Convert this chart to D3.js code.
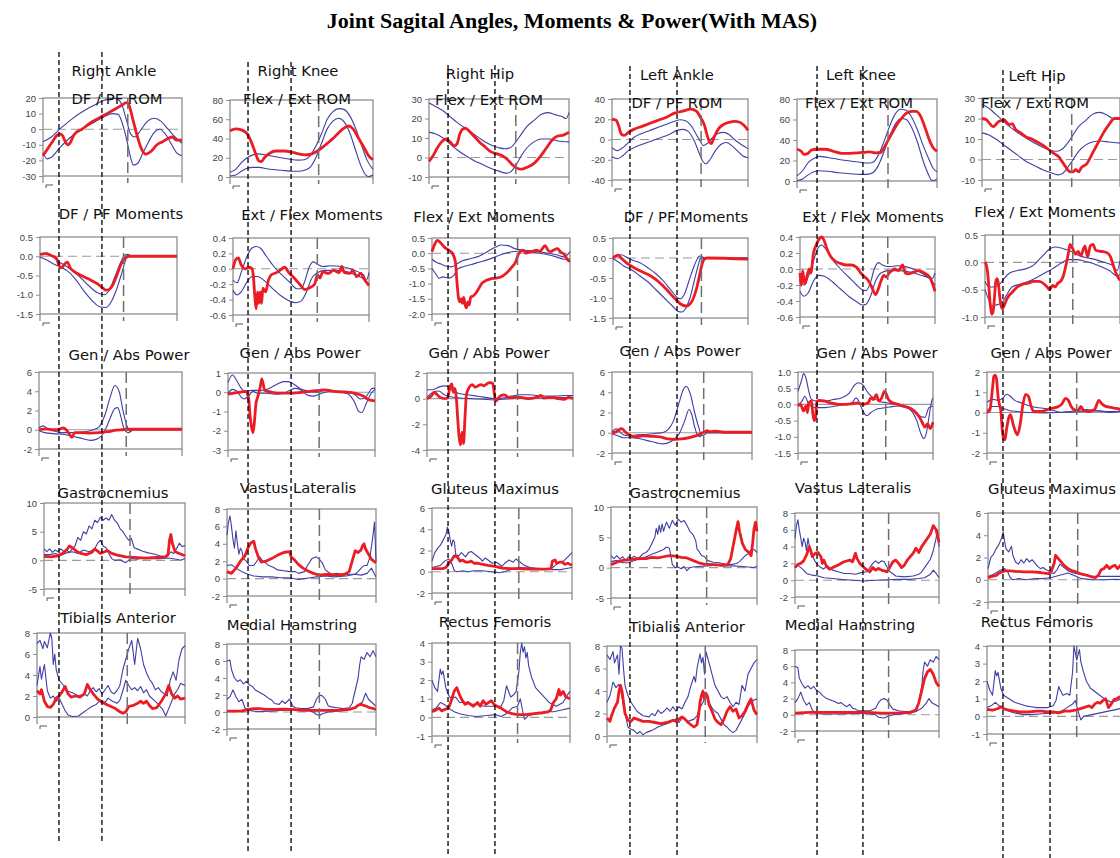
<!DOCTYPE html>
<html>
<head>
<meta charset="utf-8">
<script src="https://cdn.jsdelivr.net/npm/d3@7"></script>
<style>
  body { margin: 0; background: #fff; }
  svg { display: block; }
</style>
</head>
<body>
<svg id="chart" width="1120" height="858"></svg>
<script>
// ---- Gait data: x = % of gait cycle, y = joint value ----
// hi / lo = normal reference band, pt = patient (with MAS)

// Right ankle
const rAnkleAng_hi = [[0,-8],[6,-5],[12,0],[20,6],[28,11],[36,15],[44,18.5],[50,19.8],[54,19],[57,15],[60,6],[63,-3],[66,-5],[70,-1],[75,5],[80,7],[85,5],[90,0],[95,-5],[100,-9]];
const rAnkleAng_lo = [[0,-15],[3,-19],[6,-18],[12,-12],[20,-5],[28,0],[36,4],[44,8],[50,10],[54,9.5],[57,4],[60,-6],[63,-18],[65,-23],[68,-22],[72,-15],[76,-8],[80,-2],[84,0],[88,-3],[92,-9],[96,-15],[100,-17]];
const rAnkleAng_pt = [[0,-17],[3,-13],[6,-9],[10,-4],[12,-3],[14,-4],[16,-8],[18,-10],[20,-8],[22,-4],[24,-2],[28,0],[34,4],[40,7],[46,10],[52,13],[56,15],[60,17],[62,15],[65,5],[68,-5],[71,-13],[74,-16],[78,-14],[82,-10],[86,-8],[90,-6],[93,-5],[96,-7],[100,-7]];

const rAnkleMom_hi = [[0,0.05],[5,0.08],[9,0.0],[14,-0.15],[20,-0.28],[28,-0.5],[36,-0.78],[42,-0.95],[47,-1.0],[51,-0.85],[55,-0.5],[59,-0.15],[62,0.03],[64,0.05],[67,0],[100,0]];
const rAnkleMom_lo = [[0,-0.02],[5,-0.1],[10,-0.2],[15,-0.28],[20,-0.38],[26,-0.6],[32,-0.9],[38,-1.15],[44,-1.32],[48,-1.33],[52,-1.18],[56,-0.85],[60,-0.4],[63,-0.05],[65,0.02],[68,0],[100,0]];
const rAnkleMom_pt = [[0,0.05],[4,0.07],[8,0.02],[12,-0.05],[14,-0.25],[16,-0.3],[18,-0.2],[20,-0.15],[22,-0.3],[25,-0.4],[30,-0.5],[36,-0.6],[42,-0.72],[46,-0.83],[48,-0.88],[50,-0.87],[53,-0.75],[56,-0.5],[59,-0.22],[62,-0.05],[65,0],[100,0]];

const rAnklePow_hi = [[0,0.2],[3,0.4],[6,0.1],[10,-0.1],[16,-0.3],[24,-0.3],[32,-0.2],[38,0],[42,0.3],[46,1.5],[50,3.5],[53,4.6],[56,4],[59,1.8],[62,0.2],[64,-0.2],[66,0],[100,0]];
const rAnklePow_lo = [[0,-0.1],[4,-0.3],[10,-0.4],[18,-0.5],[24,-0.7],[30,-0.9],[36,-1.1],[40,-1.0],[44,-0.6],[47,0.2],[50,1.3],[53,2.2],[55,2.3],[57,1.5],[59,0.3],[61,-0.2],[63,-0.3],[65,0],[100,0]];
const rAnklePow_pt = [[0,0],[5,0.1],[10,0],[14,0.05],[17,0.2],[19,0],[21,-0.4],[23,-0.8],[25,-0.3],[30,-0.3],[36,-0.35],[42,-0.3],[48,-0.2],[54,-0.05],[58,0],[62,0.05],[100,0.05]];

const rGastroc_hi = [[0,2],[2,1.5],[4,2],[6,1.4],[8,1.8],[10,1.5],[12,2],[14,1.6],[16,1.8],[18,1.4],[20,2],[22,2.5],[24,4],[26,3.5],[28,5],[30,4.6],[32,6],[34,5.5],[36,7],[38,6.6],[40,7.5],[42,7],[44,7.4],[46,7],[48,8],[50,7],[52,6.5],[54,5.5],[56,5],[58,4.2],[60,3.5],[62,3.8],[64,2.2],[66,2],[70,1.6],[74,1.3],[78,1.1],[82,0.8],[86,0.6],[88,0.8],[90,1.5],[92,1.2],[94,2],[96,3],[98,2.4],[100,2.6]];
const rGastroc_lo = [[0,1],[4,1],[8,1.2],[12,0.9],[16,1.3],[20,1.5],[24,1.2],[28,1.8],[32,1.5],[36,2],[38,3],[40,3.5],[42,2.5],[44,2.2],[46,1.2],[48,0.3],[50,0],[54,0.1],[56,-0.2],[58,-0.4],[60,0],[62,0.3],[66,0.2],[70,0.4],[76,0.3],[82,0.3],[88,0.4],[94,0.2],[97,0],[100,0.3]];
const rGastroc_pt = [[0,0.7],[5,0.6],[10,0.8],[13,1.2],[16,1.8],[18,2.5],[20,2.2],[23,1.6],[26,1.2],[30,1],[34,1.4],[36,2],[38,1.6],[40,1.2],[43,1.5],[45,1.7],[48,1.2],[52,0.9],[58,0.6],[64,0.5],[72,0.4],[80,0.5],[86,0.6],[88,1],[89,3.5],[90,4.5],[91,3],[93,1.5],[96,1.2],[100,0.8]];

const rTibAnt_hi = [[0,7],[2,7.3],[4,6.5],[5,7.2],[7,6.6],[9,8],[10,7.5],[11,5],[12,6],[13,4.5],[15,3.5],[18,3],[20,2.5],[24,2.3],[28,2],[32,2.2],[34,2],[36,2.5],[38,2.8],[40,2.4],[42,2.7],[44,2.2],[46,2.6],[48,3],[50,2.4],[52,2.2],[54,2.5],[56,3],[58,4.5],[60,5.5],[62,6.5],[64,7.3],[66,5],[68,7.5],[70,6.5],[72,5],[74,4.2],[76,3.6],[78,3.2],[80,2.6],[82,2.8],[84,2.4],[86,2.2],[88,2],[90,3.5],[92,4.3],[94,3.5],[96,5.5],[98,6.5],[100,6.8]];
const rTibAnt_lo = [[0,3],[2,4.8],[3,3.6],[5,5],[7,2.5],[9,1.8],[11,2],[13,1.5],[15,1.8],[17,1.2],[19,0.6],[21,0.2],[24,0.05],[28,0.1],[31,0.4],[34,0.7],[37,1],[40,1.2],[43,1.6],[46,1.4],[48,1.8],[51,1.5],[54,1.3],[56,1.6],[58,2.5],[60,3.5],[62,3],[64,2.6],[66,2.8],[68,2.5],[70,2.9],[72,2.3],[74,2.6],[76,2],[79,1.6],[82,1.2],[85,0.7],[87,0.1],[89,0.8],[91,1.5],[93,2.2],[95,2.6],[97,3.2],[100,3]];
const rTibAnt_pt = [[0,2.5],[2,2.2],[3,2.6],[5,1.5],[7,1],[9,0.9],[11,1.2],[13,1.8],[15,2],[17,2.4],[19,2.9],[21,2.2],[23,1.9],[26,2],[29,1.9],[32,2.2],[34,3.1],[36,2.6],[38,2.2],[41,1.7],[44,1.4],[47,1.2],[50,1],[53,0.8],[56,0.5],[58,0.35],[60,0.5],[62,1],[65,1.1],[68,1.3],[70,1.5],[72,1.3],[74,1.5],[76,1.1],[78,0.8],[81,0.9],[84,1.5],[87,2.2],[89,3],[91,2.2],[93,1.8],[95,2],[97,1.7],[100,1.8]];

// Right knee
const rKneeAng_hi = [[0,5],[4,8],[8,15],[12,20],[16,23],[20,24],[26,22.5],[32,21],[40,19],[48,17.5],[52,18],[56,22],[60,32],[64,45],[68,60],[72,68],[76,71],[80,70],[84,63],[88,50],[92,33],[96,17],[100,8]];
const rKneeAng_lo = [[0,1],[4,2],[8,6],[12,9],[16,10],[20,10],[28,8],[36,7],[44,6],[48,6],[52,7],[56,10],[60,20],[64,35],[68,50],[72,58],[76,61],[80,57],[84,45],[88,27],[92,10],[95,2],[97,0.5],[100,2]];
const rKneeAng_pt = [[0,48],[4,50],[8,49],[12,45],[15,36],[18,24],[20,17],[22,16],[24,20],[28,25],[32,27],[38,27],[44,25.5],[48,24],[52,23],[56,23.5],[60,26],[64,30],[68,35],[72,40],[76,46],[80,51],[83,53],[86,50],[90,40],[94,30],[97,22],[100,18]];

const rKneeMom_hi = [[0,-0.15],[3,-0.18],[6,-0.05],[10,0.15],[14,0.27],[17,0.29],[20,0.27],[25,0.15],[30,0.03],[36,-0.08],[42,-0.18],[47,-0.26],[50,-0.26],[53,-0.15],[56,0.02],[59,0.09],[62,0.06],[66,0.03],[72,0.04],[80,0.03],[86,0],[92,-0.04],[96,-0.08],[98,-0.15],[100,-0.05]];
const rKneeMom_lo = [[0,-0.28],[3,-0.34],[6,-0.3],[10,-0.18],[14,-0.1],[18,-0.1],[24,-0.17],[30,-0.27],[36,-0.36],[42,-0.42],[46,-0.44],[50,-0.42],[54,-0.3],[58,-0.12],[62,-0.05],[68,-0.02],[76,-0.02],[84,-0.04],[90,-0.08],[96,-0.13],[100,-0.2]];
const rKneeMom_pt = [[0,0.0],[2,0.12],[4,0.14],[6,0.05],[9,0.0],[12,0.02],[14,0.0],[15,-0.1],[16,-0.35],[17,-0.52],[18,-0.3],[19,-0.45],[20,-0.3],[21,-0.45],[22,-0.25],[24,-0.3],[26,-0.15],[28,-0.08],[32,-0.05],[36,0.0],[38,0.02],[41,-0.05],[45,-0.12],[49,-0.2],[53,-0.27],[56,-0.25],[60,-0.2],[62,-0.08],[64,-0.12],[66,-0.04],[70,-0.06],[74,-0.02],[78,-0.05],[80,0.03],[82,-0.05],[86,-0.06],[88,-0.02],[91,-0.1],[94,-0.06],[97,-0.15],[100,-0.22]];

const rKneePow_hi = [[0,0.5],[3,0.9],[6,0.6],[9,0.2],[12,0.05],[16,0.1],[22,0.1],[28,0.2],[33,0.4],[38,0.55],[41,0.55],[45,0.4],[50,0.15],[55,0.05],[60,0],[66,0.1],[72,0.05],[80,0.05],[86,-0.1],[90,-0.35],[93,-0.3],[96,0],[98,0.2],[100,0.2]];
const rKneePow_lo = [[0,-0.05],[3,0.15],[6,0.05],[9,-0.25],[11,-0.35],[14,-0.2],[17,0.05],[20,-0.05],[26,-0.05],[32,-0.1],[38,-0.05],[42,0.1],[46,0.2],[50,0.1],[54,-0.15],[58,-0.2],[62,-0.1],[66,0],[72,0.05],[78,0],[82,-0.1],[86,-0.5],[89,-1.0],[91,-1.05],[94,-0.6],[97,-0.1],[100,0.15]];
const rKneePow_pt = [[0,-0.1],[4,-0.05],[8,0],[12,0.05],[14,-0.3],[15,-1.2],[16,-1.8],[17,-2.1],[18,-1.5],[19,-0.6],[20,-0.3],[22,0.3],[23,0.7],[25,0.1],[30,0],[36,-0.05],[42,-0.05],[50,0],[56,0.05],[62,0.1],[66,0.12],[72,0.05],[80,0],[86,-0.05],[92,-0.2],[96,-0.4],[100,-0.45]];

const rVastLat_hi = [[0,5],[1,6.5],[2,7.2],[3,6],[4,4.5],[5,3.5],[6,5.5],[7,4],[8,2.8],[9,3.5],[10,3.2],[11,2.3],[13,2],[15,1.5],[18,1.5],[20,2],[22,2.5],[24,2],[26,1.8],[28,1.5],[31,1.3],[34,1],[38,0.9],[42,0.8],[46,0.8],[48,0.6],[52,0.8],[54,1.5],[57,2.3],[60,2.5],[62,2.2],[64,1.8],[66,1],[70,0.5],[74,0.6],[78,0.4],[82,0.5],[86,0.5],[88,0.8],[90,1.2],[92,1.5],[94,1.5],[96,2.5],[98,5],[99,6.5],[100,2]];
const rVastLat_lo = [[0,1.5],[3,1.6],[6,1.2],[10,0.8],[14,0.5],[18,0.3],[24,0.2],[30,0.2],[36,0.1],[42,0.1],[48,-0.1],[52,0],[56,0.1],[60,0.2],[66,0.3],[72,0.2],[80,0.3],[86,0.5],[90,0.4],[94,0.6],[97,1.2],[99,0.5],[100,0.2]];
const rVastLat_pt = [[0,0.8],[3,0.6],[6,1.2],[9,2],[12,2.6],[14,3.5],[16,4.1],[18,4.3],[19,3.5],[21,2.5],[23,1.9],[26,2],[30,2.3],[34,2.7],[38,3.0],[42,3.1],[43,2.5],[45,2.2],[48,1.6],[51,1.2],[54,0.9],[58,0.6],[62,0.4],[68,0.5],[74,0.4],[79,0.5],[82,0.8],[84,2],[86,3.2],[88,3],[90,3.3],[91,3.8],[92,4],[93,3.4],[95,2.8],[97,2.2],[100,1.8]];

const rMedHam_hi = [[0,6],[2,6.1],[3,5],[5,4],[7,3.6],[9,3.8],[11,3.3],[13,3.6],[15,3.2],[17,3],[19,2.6],[22,2.3],[25,2],[28,1.6],[30,1.4],[32,1],[35,0.9],[37,1.3],[39,1],[42,1.5],[44,0.7],[46,0.5],[50,0.4],[54,0.4],[58,0.6],[60,1.5],[62,2],[64,1.9],[66,1.5],[68,0.7],[70,0.6],[74,0.5],[78,0.4],[82,0.5],[84,1],[86,2.5],[88,4],[89,5.5],[90,6.5],[92,6.2],[94,7],[96,6.5],[98,7.2],[100,6.5]];
const rMedHam_lo = [[0,1.5],[2,1.8],[4,2.6],[6,1.8],[8,1.2],[10,1.5],[12,0.5],[14,0.2],[18,0.1],[22,0.05],[30,0.1],[38,0.2],[46,0.3],[54,0.2],[58,0],[60,-0.3],[62,-0.4],[64,-0.2],[68,0],[74,0.1],[80,0.2],[84,0.4],[88,0.8],[91,1.2],[93,2.2],[95,1.5],[98,1],[100,0.7]];
const rMedHam_pt = [[0,0.1],[10,0.1],[14,0.3],[18,0.4],[22,0.4],[26,0.3],[32,0.3],[38,0.35],[44,0.3],[50,0.2],[58,0.2],[66,0.2],[74,0.2],[82,0.3],[86,0.5],[88,0.8],[90,0.9],[93,0.7],[96,0.5],[100,0.3]];

// Right hip
const rHipAng_hi = [[0,28],[5,26],[10,24],[15,21],[20,18],[26,15],[32,12],[38,9],[44,6.5],[50,5],[54,4.5],[58,5],[62,8],[66,12],[70,16],[75,19],[80,22],[85,23],[90,22],[95,21],[98,20],[100,23]];
const rHipAng_lo = [[0,13],[5,12],[10,10],[15,7],[20,4],[26,1],[32,-1.5],[38,-3.5],[44,-5.5],[50,-7],[55,-8],[58,-7.5],[62,-4],[66,1],[70,5],[75,8],[80,9.5],[86,9.5],[92,8.5],[100,8]];
const rHipAng_pt = [[0,-2],[3,1],[6,5],[9,8],[12,9.5],[15,8],[18,6],[20,7],[22,12],[24,14.5],[26,15],[28,14],[32,11],[36,8],[40,5.5],[44,3],[48,2],[52,1],[56,-1],[60,-4],[63,-5.5],[66,-6],[70,-5],[75,-3],[80,1],[84,5],[88,9],[92,11],[96,11.5],[100,13]];

const rHipMom_hi = [[0,-0.2],[3,-0.3],[6,-0.35],[10,-0.42],[14,-0.45],[18,-0.35],[22,-0.25],[28,-0.18],[34,-0.1],[40,0.05],[46,0.2],[50,0.27],[55,0.25],[60,0.15],[66,0.1],[72,0.08],[78,0.05],[84,0.0],[90,-0.05],[96,-0.12],[100,0.05]];
const rHipMom_lo = [[0,-0.5],[3,-0.7],[5,-0.82],[8,-0.78],[12,-0.82],[16,-0.72],[18,-0.55],[22,-0.45],[28,-0.38],[34,-0.3],[40,-0.22],[46,-0.12],[52,-0.02],[58,0.05],[64,0.07],[70,0.05],[78,0.0],[84,-0.05],[90,-0.12],[96,-0.2],[100,-0.18]];
const rHipMom_pt = [[0,0.05],[2,0.3],[4,0.42],[6,0.35],[9,0.2],[12,0.1],[15,-0.02],[17,-0.3],[18,-0.9],[19,-1.4],[20,-1.6],[21,-1.5],[22,-1.65],[23,-1.45],[24,-1.7],[25,-1.8],[26,-1.6],[27,-1.7],[28,-1.45],[30,-1.4],[32,-1.3],[34,-1.15],[36,-1.0],[39,-0.9],[42,-0.85],[46,-0.82],[50,-0.78],[54,-0.65],[58,-0.45],[61,-0.25],[62,-0.1],[64,0.05],[66,0.1],[68,0.0],[72,0.05],[76,0.1],[78,0.05],[80,0.15],[82,0.25],[84,0.1],[86,0.05],[88,0.1],[91,0.15],[93,0.05],[96,-0.05],[98,-0.2],[100,-0.28]];

const rHipPow_hi = [[0,0.7],[4,0.7],[8,0.9],[12,1.0],[15,0.9],[18,0.6],[22,0.4],[28,0.3],[34,0.2],[40,0.1],[46,0],[52,0.05],[58,0.2],[64,0.3],[70,0.3],[76,0.25],[82,0.2],[88,0.2],[94,0.25],[100,0.25]];
const rHipPow_lo = [[0,0.1],[4,0.5],[8,0.6],[12,0.3],[16,0.15],[22,0.05],[30,0],[38,-0.05],[46,-0.1],[52,-0.05],[58,0],[64,0.05],[70,0.05],[80,0.05],[90,0.1],[100,0.05]];
const rHipPow_pt = [[0,0],[3,0.2],[5,0.5],[7,0.3],[9,0.1],[12,0],[14,0.05],[16,1.0],[17,1.15],[18,0.5],[19,0.8],[20,0.2],[21,-1.5],[22,-3.0],[23,-3.6],[24,-2.6],[25,-3.5],[26,-1.5],[27,0.3],[29,0.9],[31,1.1],[33,0.9],[35,1.0],[37,1.1],[39,1.0],[41,1.15],[43,1.25],[45,1.2],[46,0.5],[47,-0.2],[48,-0.1],[50,0.2],[53,0.3],[56,0.1],[60,0.1],[64,0.1],[70,0],[76,0.15],[78,0.25],[80,0.05],[86,0.1],[90,0.0],[94,-0.05],[97,0.1],[100,0]];

const rGlutMax_hi = [[0,1],[2,1.8],[4,2.2],[6,2.5],[8,3],[10,3.5],[11,4.2],[12,3.8],[13,3],[14,2.4],[15,3],[16,2.8],[17,1.6],[19,1.5],[21,1.8],[24,1.4],[26,1.8],[28,1.9],[31,1.6],[34,1.3],[36,1.0],[38,1.3],[40,1.1],[43,0.8],[46,0.9],[48,0.7],[50,0.5],[52,0.8],[55,1.1],[58,0.9],[60,1.2],[63,0.9],[66,0.6],[70,0.4],[75,0.3],[80,0.3],[85,0.25],[88,0.6],[91,0.9],[94,1.0],[97,1.4],[100,1.8]];
const rGlutMax_lo = [[0,0.4],[3,0.5],[6,0.6],[9,1.0],[12,1.2],[14,0.8],[16,0.1],[18,0.0],[22,0.1],[26,0.0],[30,0.1],[36,0.1],[42,0.0],[48,-0.1],[52,0],[56,0.2],[62,0.4],[70,0.35],[78,0.3],[86,0.2],[92,0.2],[96,0.3],[100,0.4]];
const rGlutMax_pt = [[0,0.3],[4,0.3],[8,0.3],[10,0.4],[12,0.8],[14,1.1],[16,1.5],[18,1.4],[20,1.0],[22,1.1],[24,0.9],[26,0.9],[28,1.0],[30,0.8],[33,0.8],[36,0.7],[40,0.6],[45,0.5],[50,0.35],[56,0.3],[62,0.3],[70,0.25],[76,0.25],[82,0.25],[85,0.3],[86,1.0],[88,1.1],[89,0.8],[91,0.9],[93,0.9],[95,0.7],[97,0.8],[100,0.6]];

const rRectFem_hi = [[0,2],[2,1.6],[4,1.4],[6,2.6],[7,2.3],[8,2.5],[10,1.6],[12,1.2],[14,1],[17,1.1],[20,0.8],[24,0.8],[28,0.7],[32,0.7],[38,0.6],[44,0.6],[50,0.6],[52,0.9],[54,1.7],[55,1.5],[57,1.1],[59,1.2],[61,1.4],[63,2.5],[64,3.5],[65,4],[66,3.5],[67,3.8],[68,3.2],[69,3.5],[70,2.8],[72,2.2],[75,1.6],[80,1.2],[85,0.8],[90,0.6],[95,0.8],[98,1.2],[100,1.4]];
const rRectFem_lo = [[0,0.4],[3,0.5],[6,0.8],[9,0.7],[12,0.5],[16,0.3],[20,0.2],[26,0.1],[32,0.05],[40,0.1],[46,0.15],[50,0.05],[54,0.2],[58,0.5],[62,0.6],[64,1.0],[65,0.6],[67,-0.1],[70,0.1],[76,0.2],[82,0.3],[88,0.3],[94,0.4],[100,0.5]];
const rRectFem_pt = [[0,0.3],[3,0.4],[5,0.5],[7,0.35],[10,0.45],[12,0.5],[14,0.9],[16,1.4],[18,1.6],[20,1.2],[22,0.9],[24,0.7],[26,0.8],[28,0.7],[30,0.6],[33,0.8],[35,0.6],[37,0.9],[39,0.7],[41,0.8],[43,0.9],[45,0.7],[47,0.6],[50,0.5],[54,0.3],[58,0.2],[62,0.15],[68,0.15],[74,0.2],[80,0.25],[84,0.3],[86,0.4],[88,0.8],[90,1.0],[92,1.5],[93,1.2],[95,1.4],[97,1.1],[100,1.0]];

// Left ankle
const lAnkleAng_hi = [[0,-8],[4,-11],[8,-8],[12,-3],[16,2],[22,6],[30,10],[38,14],[46,18],[50,19.5],[54,18.5],[58,14],[62,5],[65,-2],[67,-6],[70,-4],[74,2],[78,6],[82,7],[86,5],[90,0],[95,-5],[100,-9]];
const lAnkleAng_lo = [[0,-17],[4,-19],[8,-16],[12,-11],[18,-7],[26,-3],[34,1],[42,5],[48,9],[52,10],[56,8],[60,0],[64,-13],[67,-22],[69,-24],[72,-20],[76,-11],[80,-5],[84,-3],[88,-6],[92,-11],[96,-16],[100,-18]];
const lAnkleAng_pt = [[0,20],[3,19],[5,13],[7,5],[9,4],[12,7],[16,10],[22,13],[28,16],[34,19],[40,22],[46,26],[52,28],[58,30],[62,28],[65,22],[68,14],[70,4],[72,-3],[73,-4],[75,2],[78,10],[82,15],[86,17],[90,18],[94,17],[97,14],[100,9]];

const lAnkleMom_hi = [[0,0],[3,0.05],[6,0.08],[10,0.02],[14,-0.05],[20,-0.12],[26,-0.25],[32,-0.4],[38,-0.6],[44,-0.85],[48,-1.0],[50,-1.02],[53,-0.9],[56,-0.6],[59,-0.3],[62,-0.05],[64,0.05],[66,0.03],[68,0],[100,0]];
const lAnkleMom_lo = [[0,-0.02],[4,-0.1],[8,-0.2],[14,-0.3],[20,-0.45],[26,-0.6],[32,-0.8],[38,-1.0],[44,-1.2],[48,-1.33],[51,-1.35],[54,-1.25],[57,-1.0],[60,-0.6],[63,-0.2],[65,0],[100,0]];
const lAnkleMom_pt = [[0,0],[2,0.05],[4,0.07],[6,0.0],[10,-0.12],[16,-0.25],[22,-0.35],[28,-0.45],[34,-0.6],[40,-0.8],[46,-1.02],[50,-1.15],[54,-1.2],[56,-1.18],[59,-1.05],[62,-0.75],[64,-0.45],[66,-0.15],[68,-0.02],[70,0],[100,-0.03]];

const lAnklePow_hi = [[0,0.1],[3,0.4],[5,0.2],[8,-0.2],[12,-0.3],[18,-0.2],[26,-0.15],[32,-0.05],[36,0],[40,0.3],[44,1.2],[48,3],[51,4.3],[53,4.6],[56,3.8],[59,2],[62,0.5],[64,-0.3],[66,-0.2],[68,0],[100,0]];
const lAnklePow_lo = [[0,-0.1],[4,-0.3],[8,-0.5],[14,-0.5],[20,-0.6],[26,-0.8],[32,-1.0],[36,-1.1],[40,-1.0],[44,-0.7],[48,-0.1],[52,1.2],[55,2.3],[57,1.8],[59,0.6],[61,-0.2],[63,-0.4],[65,0],[100,0]];
const lAnklePow_pt = [[0,0],[3,0.1],[5,0.3],[7,0.4],[9,0.15],[12,-0.2],[16,-0.4],[22,-0.3],[28,-0.35],[34,-0.4],[40,-0.6],[46,-0.65],[50,-0.6],[56,-0.45],[62,-0.2],[66,0.1],[68,0.2],[70,0.1],[74,0.15],[80,0.05],[88,0.05],[100,0.05]];

const lGastroc_hi = [[0,2],[2,1.5],[4,2],[6,1.4],[8,1.8],[10,1.2],[12,1.8],[14,1.6],[16,1.9],[18,1.5],[20,1.8],[22,2.3],[24,2.5],[26,3],[28,4],[30,5],[31,6.5],[32,5.5],[33,7],[34,5.8],[35,7.2],[36,6],[37,6.8],[38,7.5],[40,6.5],[42,7.8],[44,7],[46,8],[48,7.5],[50,7.8],[52,7],[54,6],[56,5.5],[58,4.5],[59,3],[60,2.8],[62,2],[64,1.8],[66,1.2],[70,0.9],[74,0.8],[78,0.6],[82,0.5],[86,0.7],[88,1],[90,1.5],[92,2],[94,2.3],[96,3],[98,3],[100,2.5]];
const lGastroc_lo = [[0,1],[4,1.2],[8,0.8],[12,0.8],[16,1.2],[20,1.5],[24,1.8],[28,2.2],[32,2.6],[36,3],[38,3.4],[40,3.2],[41,2],[42,0.5],[44,0],[46,0.1],[48,-0.2],[50,0.2],[52,-0.5],[54,0],[56,0.1],[60,0.2],[66,0.3],[72,0.4],[78,0.3],[84,0.3],[90,0.2],[94,0.1],[98,0],[100,0.3]];
const lGastroc_pt = [[0,0.5],[4,0.9],[8,1.2],[12,1.3],[16,1.4],[20,1.5],[24,1.5],[28,1.7],[32,1.6],[36,1.8],[40,2],[44,1.9],[48,1.7],[52,1.6],[56,1.2],[60,0.8],[64,0.6],[70,0.5],[76,0.4],[80,0.5],[82,1.5],[84,4],[86,6.5],[87,7.6],[88,6],[90,4],[92,3],[94,2.6],[96,2],[97,4],[98,6.5],[99,7.5],[100,6]];

const lTibAnt_hi = [[0,7.2],[2,6.8],[4,7.5],[5,6.5],[7,7.2],[8,5.5],[9,8],[10,7.8],[11,6],[12,4.5],[13,4],[14,3.6],[16,3],[18,2.6],[20,2.2],[24,1.8],[28,1.7],[30,2],[32,1.8],[34,2.3],[36,2],[38,2.2],[40,2.5],[42,2.2],[44,2.6],[46,2.2],[48,2.6],[50,2.4],[52,3],[54,3.5],[56,4.5],[58,5.3],[59,4.8],[60,6],[62,7.3],[63,6.5],[64,7],[65,5.5],[66,7.5],[67,7],[68,6.5],[70,5.5],[72,4.5],[74,4],[76,3.5],[78,3.3],[80,3.5],[82,3],[84,2.6],[86,3],[88,2.8],[90,4.5],[92,4],[94,5.5],[96,6],[98,6.5],[100,6.8]];
const lTibAnt_lo = [[0,3],[2,3.6],[4,4.8],[6,4.3],[8,4.6],[10,3.5],[12,2],[14,0.8],[16,0.6],[18,0.5],[20,0.2],[22,0.4],[24,0.1],[26,0.3],[30,0.5],[34,0.8],[38,1.0],[42,1.2],[44,1.4],[46,1.5],[48,1.2],[50,1.6],[54,1.3],[58,1.5],[60,1.8],[62,2.5],[64,3],[66,3.6],[68,3],[70,2.5],[72,2.2],[74,2],[76,1.5],[78,1],[80,0.8],[82,0.5],[84,0.3],[86,0.5],[88,1],[90,1.5],[92,2],[94,2.6],[96,3],[98,3.2],[100,3.3]];
const lTibAnt_pt = [[0,1.6],[2,1.3],[3,1.8],[5,2.5],[7,3],[8,4],[9,4.5],[10,4],[11,3],[12,2],[14,1.4],[16,1.3],[18,1.6],[20,1.5],[24,1.3],[28,1.3],[32,1.2],[36,1.1],[40,1.2],[44,1.4],[46,1.3],[48,1.5],[50,1.7],[52,1.5],[54,1.2],[56,1],[58,0.8],[60,1],[61,1.8],[62,3],[63,3.6],[64,4],[65,3.3],[66,3.8],[67,3.5],[68,2.8],[70,2.2],[72,1.5],[74,1.2],[76,1.0],[78,1.5],[80,2.2],[82,2.6],[84,2.2],[86,2.4],[88,1.6],[90,1.8],[92,2.2],[94,2.8],[96,3.3],[98,2.3],[100,1.9]];

// Left knee
const lKneeAng_hi = [[0,5],[4,10],[8,18],[12,22],[16,24],[22,23],[30,21],[38,19.5],[46,18],[50,17.5],[54,18],[58,25],[62,38],[66,53],[70,65],[74,70],[78,69],[82,62],[86,50],[90,35],[94,22],[97,13],[100,9]];
const lKneeAng_lo = [[0,0.5],[4,2],[8,6],[12,9],[16,10],[22,9.5],[30,8],[38,7],[46,6.5],[50,6.5],[54,8],[58,15],[62,28],[66,43],[70,55],[74,61],[78,60],[82,52],[86,38],[90,20],[94,6],[96,1],[98,0.5],[100,2]];
const lKneeAng_pt = [[0,31],[3,29],[5,26],[8,27],[10,30],[14,31],[20,31],[26,29],[32,27],[38,27],[44,27.5],[48,28],[52,28.5],[56,27.5],[60,28],[62,32],[66,42],[70,52],[74,60],[78,66],[82,68],[85,68],[88,64],[91,54],[94,42],[97,33],[100,29]];

const lKneeMom_hi = [[0,-0.15],[3,-0.2],[6,-0.1],[10,0.1],[13,0.25],[16,0.3],[19,0.25],[24,0.12],[30,0.0],[36,-0.1],[42,-0.2],[46,-0.26],[49,-0.27],[52,-0.18],[55,0.0],[58,0.08],[61,0.05],[66,0.03],[72,0.04],[78,0.03],[84,0.0],[90,-0.05],[95,-0.1],[98,-0.12],[100,-0.05]];
const lKneeMom_lo = [[0,-0.28],[3,-0.34],[6,-0.3],[10,-0.15],[14,-0.08],[18,-0.09],[24,-0.16],[30,-0.25],[36,-0.34],[42,-0.41],[46,-0.45],[49,-0.44],[52,-0.35],[56,-0.15],[60,-0.05],[66,-0.02],[74,-0.02],[82,-0.04],[90,-0.08],[96,-0.12],[100,-0.2]];
const lKneeMom_pt = [[0,-0.05],[1,-0.2],[2,-0.02],[3,-0.15],[4,-0.18],[5,-0.1],[7,0.0],[8,-0.05],[10,0.2],[12,0.3],[14,0.37],[16,0.4],[18,0.35],[20,0.25],[23,0.15],[26,0.1],[30,0.07],[34,0.05],[38,0.05],[42,0.02],[45,-0.05],[48,-0.1],[50,-0.13],[53,-0.22],[55,-0.3],[56,-0.32],[58,-0.25],[60,-0.15],[62,-0.08],[64,-0.1],[66,-0.05],[68,-0.02],[70,0.0],[73,-0.02],[76,0.05],[78,-0.05],[80,-0.06],[84,-0.04],[88,-0.02],[92,-0.05],[96,-0.1],[100,-0.28]];

const lKneePow_hi = [[0,0.4],[3,0.8],[4,0.95],[6,0.8],[8,0.4],[10,0.15],[14,0.1],[20,0.1],[26,0.15],[32,0.2],[38,0.35],[42,0.6],[45,0.67],[48,0.6],[52,0.35],[56,0.2],[60,0.1],[66,0.05],[72,0],[78,-0.05],[84,-0.2],[88,-0.5],[91,-0.9],[93,-1.05],[95,-0.9],[97,-0.4],[99,0.1],[100,0.2]];
const lKneePow_lo = [[0,0.0],[3,0.1],[5,0.25],[8,0.0],[12,-0.1],[20,-0.1],[28,-0.05],[34,0.0],[40,0.05],[43,0.2],[45,0.1],[48,-0.2],[51,-0.35],[54,-0.25],[58,-0.15],[62,-0.12],[68,-0.08],[74,-0.05],[80,-0.1],[86,-0.2],[90,-0.35],[94,-0.4],[97,-0.1],[100,-0.05]];
const lKneePow_pt = [[0,-0.05],[2,0.0],[4,-0.2],[6,-0.05],[7,-0.25],[8,0.05],[10,0.1],[11,-0.3],[12,-0.5],[13,-0.4],[14,0.1],[16,0.12],[20,0.1],[24,0.05],[30,0.0],[36,0.0],[40,0.02],[44,0.05],[48,0.0],[52,0.05],[54,0.2],[56,0.15],[58,0.3],[60,0.1],[62,0.2],[64,0.4],[65,0.35],[67,0.15],[70,0.05],[74,0.0],[78,-0.05],[82,-0.1],[86,-0.2],[90,-0.4],[92,-0.55],[94,-0.7],[96,-0.6],[98,-0.75],[100,-0.55]];

const lVastLat_hi = [[0,5],[1,6.5],[2,7.2],[3,6],[4,5],[5,4],[6,5],[7,4.5],[8,3.5],[9,5],[10,4],[12,3],[14,2.2],[16,1.8],[18,1.5],[20,1.3],[22,1.8],[24,1.5],[26,1.2],[30,1.0],[34,0.8],[38,0.8],[42,0.7],[46,0.9],[50,1],[52,1.5],[54,2],[56,2.3],[58,2],[60,2.3],[62,2.2],[64,1.5],[66,1],[70,0.5],[76,0.4],[82,0.5],[86,0.7],[88,1],[90,1.5],[92,2],[94,2.5],[96,3.5],[98,5],[99,6],[100,4]];
const lVastLat_lo = [[0,1.5],[2,1.8],[4,1.5],[6,1.2],[8,0.8],[12,0.6],[16,0.5],[20,0.3],[26,0.2],[32,0.1],[40,0.0],[48,-0.1],[56,0],[64,0.05],[72,0.1],[80,0.1],[86,0.2],[90,0.3],[94,0.7],[96,1.2],[98,0.8],[100,0.3]];
const lVastLat_pt = [[0,1.5],[2,1.9],[4,2],[6,2.3],[8,3],[10,4],[11,3.5],[12,2.8],[14,3.2],[16,3.3],[18,2.8],[19,2],[20,2.4],[22,1.6],[24,1.3],[26,1.5],[30,1.8],[34,2.2],[38,2.4],[40,2.2],[42,3.2],[43,2.6],[45,2],[48,1.5],[50,1.2],[52,1.0],[54,1.5],[56,1.2],[58,1.4],[60,1.2],[62,1.1],[64,1],[66,1.6],[68,2.2],[70,2.4],[72,2.0],[74,1.5],[76,1.8],[78,2.4],[80,2.8],[82,3.2],[84,3.8],[86,3.3],[88,4],[90,4.5],[92,5],[94,5.5],[96,6.5],[98,6],[100,4.5]];

const lMedHam_hi = [[0,6],[2,5.8],[3,4.5],[5,3.8],[7,3.3],[9,3.6],[11,3.2],[13,3.5],[15,3],[17,2.8],[19,2.4],[22,2],[25,1.8],[28,1.6],[30,1.4],[32,1.5],[34,1.2],[36,1.0],[38,1.3],[40,0.8],[42,0.7],[44,0.5],[48,0.5],[52,0.5],[56,0.8],[58,1.5],[60,1.9],[62,2],[64,1.8],[66,1.2],[68,0.7],[72,0.5],[76,0.4],[80,0.4],[84,0.5],[86,1.5],[88,3.5],[89,5.5],[90,6.5],[92,6],[94,6.8],[96,6.5],[98,7.2],[100,6.8]];
const lMedHam_lo = [[0,1.5],[2,2],[4,2.8],[6,1.8],[8,1.2],[10,1.5],[12,0.6],[14,0.2],[18,0.1],[24,0.1],[30,0.1],[38,0.15],[46,0.2],[52,0.1],[56,0],[58,-0.3],[62,-0.4],[64,-0.2],[68,0],[74,0.1],[80,0.2],[84,0.4],[88,0.8],[91,1.4],[93,2],[95,1.5],[98,1.2],[100,1.0]];
const lMedHam_pt = [[0,0.2],[10,0.3],[20,0.3],[30,0.3],[40,0.3],[50,0.3],[60,0.2],[70,0.2],[80,0.3],[84,0.6],[86,1.5],[88,3],[90,4.5],[92,5.3],[94,5.6],[96,5],[98,4],[100,3.5]];

// Left hip
const lHipAng_hi = [[0,27],[5,25],[10,22],[15,19],[20,16],[26,13],[32,10.5],[38,8],[44,6],[50,4.5],[54,4],[58,5],[62,8],[66,12],[70,16],[75,19],[80,22],[85,23],[90,22],[95,20],[100,20]];
const lHipAng_lo = [[0,13],[5,12],[10,10],[15,7.5],[20,5],[26,2],[32,-1],[38,-3],[44,-5],[50,-6.5],[55,-7.5],[58,-7],[62,-4],[66,0],[70,4],[75,7],[80,8.5],[86,9],[92,8.5],[100,8]];
const lHipAng_pt = [[0,20],[3,19.5],[5,18],[8,16],[10,17],[12,18.5],[14,19],[16,19.5],[18,18],[20,17],[22,17.5],[24,15],[28,13],[32,11],[36,10],[40,8.5],[44,7],[48,5],[52,3],[56,1],[58,-1],[60,-3],[62,-5],[64,-6],[66,-6],[68,-5],[70,-6],[72,-4],[76,-2],[80,3],[84,8],[88,13],[92,17],[96,20],[100,20]];

const lHipMom_hi = [[0,-0.35],[3,-0.45],[6,-0.45],[10,-0.42],[14,-0.3],[18,-0.2],[24,-0.15],[30,-0.12],[36,-0.05],[40,0.05],[44,0.15],[48,0.25],[52,0.28],[58,0.25],[64,0.2],[70,0.12],[76,0.08],[82,0.05],[88,0.0],[94,-0.05],[98,-0.15],[100,0.03]];
const lHipMom_lo = [[0,-0.5],[3,-0.7],[5,-0.8],[8,-0.78],[12,-0.75],[16,-0.6],[20,-0.45],[26,-0.4],[32,-0.35],[38,-0.28],[44,-0.2],[50,-0.12],[56,-0.02],[62,0.05],[68,0.05],[74,0.02],[80,-0.02],[86,-0.08],[92,-0.15],[98,-0.25],[100,-0.22]];
const lHipMom_pt = [[0,0],[1,-0.05],[2,-0.2],[3,-0.5],[4,-0.8],[5,-0.95],[6,-0.9],[7,-0.65],[8,-0.35],[9,-0.3],[10,-0.4],[11,-0.65],[12,-0.8],[13,-0.85],[14,-0.8],[16,-0.68],[18,-0.6],[20,-0.55],[24,-0.45],[28,-0.4],[32,-0.38],[36,-0.35],[40,-0.35],[44,-0.4],[46,-0.45],[48,-0.5],[50,-0.42],[52,-0.45],[54,-0.38],[56,-0.35],[58,-0.25],[60,-0.05],[62,0.2],[63,0.33],[65,0.25],[67,0.15],[69,0.2],[71,0.12],[73,0.25],[74,0.3],[76,0.1],[78,0.3],[80,0.33],[82,0.22],[86,0.2],[90,0.18],[93,0.1],[95,-0.05],[97,-0.2],[100,-0.33]];

const lHipPow_hi = [[0,0.5],[4,0.65],[8,0.6],[12,0.75],[14,0.9],[17,0.8],[20,0.6],[24,0.5],[30,0.35],[36,0.25],[42,0.2],[48,0.1],[54,0.0],[60,0.05],[66,0.1],[72,0.15],[78,0.1],[84,0.05],[90,0.0],[96,0.05],[100,0.1]];
const lHipPow_lo = [[0,0.1],[4,0.3],[8,0.3],[12,0.2],[16,0.1],[22,0.05],[30,0],[40,-0.02],[50,0],[60,0.02],[70,0.05],[80,0.08],[90,0.05],[100,0.1]];
const lHipPow_pt = [[0,0],[2,0.1],[4,1.2],[5,1.8],[6,1.85],[7,1.6],[8,0.8],[9,0.4],[10,0.1],[11,-0.8],[12,-1.3],[13,-1.35],[14,-0.9],[16,-0.2],[17,-0.1],[19,-0.6],[21,-1.0],[22,-1.1],[24,-0.6],[26,0.4],[28,0.9],[30,0.8],[32,0.3],[34,0.05],[38,0.05],[42,0.1],[46,0.2],[50,0.25],[54,0.4],[57,0.7],[59,0.6],[61,0.3],[63,0.15],[66,0.1],[68,0.3],[70,0.1],[74,0.05],[78,0.15],[81,0.6],[83,0.45],[86,0.3],[90,0.25],[94,0.2],[97,0.15],[100,0.1]];

const lGlutMax_hi = [[0,1],[2,2],[4,2.3],[6,2.8],[8,3.2],[10,3.8],[11,4.3],[12,3.5],[13,2.8],[15,2.5],[17,3],[18,2.2],[20,1.6],[22,1.4],[24,1.8],[26,1.5],[28,1.9],[30,1.6],[32,1.8],[34,1.5],[36,1.2],[38,1.0],[40,1.1],[42,0.9],[44,0.8],[46,0.6],[48,0.6],[50,0.9],[52,1.4],[54,1.2],[56,1.0],[58,0.8],[60,0.7],[62,0.6],[66,0.5],[70,0.4],[76,0.3],[82,0.3],[88,0.3],[94,0.3],[100,0.3]];
const lGlutMax_lo = [[0,0.3],[4,0.5],[8,0.8],[12,1.0],[14,0.8],[16,0.2],[18,0.0],[22,0.1],[28,0.0],[34,0.1],[40,0.1],[46,0.2],[52,0.4],[58,0.6],[62,0.4],[68,0.1],[76,0.0],[84,0.0],[92,0.05],[100,0.0]];
const lGlutMax_pt = [[0,0.2],[3,0.3],[6,0.4],[8,0.6],[10,0.7],[12,0.8],[16,0.8],[20,0.75],[26,0.7],[32,0.7],[38,0.65],[44,0.55],[46,0.8],[48,1.5],[49,2.2],[51,1.9],[53,1.6],[55,1.3],[58,1.0],[61,0.8],[64,0.7],[68,0.5],[72,0.4],[75,0.25],[78,0.2],[80,0.4],[82,0.9],[84,1.0],[86,1.3],[88,1.0],[90,1.2],[92,1.3],[94,1.0],[96,1.3],[100,1.2]];

const lRectFem_hi = [[0,2],[2,1.5],[4,1.2],[6,2.6],[7,2.3],[8,2.5],[10,1.6],[12,1.2],[14,1.1],[16,1.0],[20,0.8],[24,0.7],[28,0.6],[32,0.55],[36,0.5],[40,0.5],[44,0.5],[48,0.6],[50,0.9],[52,1.7],[53,1.5],[55,1.2],[58,1.3],[60,1.2],[62,2.5],[63,4],[64,3.6],[65,3.2],[66,3.5],[67,3.8],[68,3.1],[70,2.5],[72,2],[75,1.6],[80,1.3],[85,1.0],[90,0.8],[95,0.9],[100,1.2]];
const lRectFem_lo = [[0,0.5],[3,0.6],[6,0.8],[9,0.6],[12,0.4],[16,0.3],[20,0.2],[26,0.1],[32,0.1],[40,0.15],[48,0.2],[54,0.3],[58,0.5],[62,0.7],[64,0.9],[66,0.3],[68,-0.2],[70,0],[76,0.1],[82,0.2],[88,0.3],[94,0.4],[100,0.5]];
const lRectFem_pt = [[0,0.4],[4,0.35],[8,0.45],[10,0.55],[12,0.45],[16,0.35],[20,0.3],[24,0.25],[30,0.25],[36,0.3],[40,0.3],[44,0.25],[48,0.25],[52,0.2],[56,0.3],[60,0.3],[64,0.35],[66,0.4],[70,0.5],[74,0.6],[76,0.5],[78,0.7],[80,0.8],[82,0.75],[84,0.9],[86,1.0],[88,0.5],[90,0.7],[92,0.95],[94,1.0],[96,1.1],[98,1.0],[100,1.1]];

// ---- Labels and axis ticks ----
const mainTitle = "Joint Sagital Angles, Moments & Power(With MAS)";
const jointTitles = ["Right Ankle", "Right Knee", "Right Hip", "Left Ankle", "Left Knee", "Left Hip"];
const panelTitles = [
  ["DF / PF ROM", "DF / PF Moments", "Gen / Abs Power", "Gastrocnemius", "Tibialis Anterior"],
  ["Flex / Ext ROM", "Ext / Flex Moments", "Gen / Abs Power", "Vastus Lateralis", "Medial Hamstring"],
  ["Flex / Ext ROM", "Flex / Ext Moments", "Gen / Abs Power", "Gluteus Maximus", "Rectus Femoris"],
  ["DF / PF ROM", "DF / PF Moments", "Gen / Abs Power", "Gastrocnemius", "Tibialis Anterior"],
  ["Flex / Ext ROM", "Ext / Flex Moments", "Gen / Abs Power", "Vastus Lateralis", "Medial Hamstring"],
  ["Flex / Ext ROM", "Flex / Ext Moments", "Gen / Abs Power", "Gluteus Maximus", "Rectus Femoris"]
];
const tickSets = [
  [[20,10,0,-10,-20,-30], [0.5,0,-0.5,-1,-1.5], [6,4,2,0,-2], [10,5,0,-5], [8,6,4,2,0]],
  [[80,60,40,20,0], [0.4,0.2,0,-0.2,-0.4,-0.6], [1,0,-1,-2,-3], [8,6,4,2,0,-2], [8,6,4,2,0,-2]],
  [[30,20,10,0,-10], [0.5,0,-0.5,-1,-1.5,-2], [2,0,-2,-4], [6,4,2,0,-2], [4,3,2,1,0,-1]],
  [[40,20,0,-20,-40], [0.5,0,-0.5,-1,-1.5], [6,4,2,0,-2], [10,5,0,-5], [8,6,4,2,0]],
  [[80,60,40,20,0], [0.4,0.2,0,-0.2,-0.4,-0.6], [1,0.5,0,-0.5,-1,-1.5], [8,6,4,2,0,-2], [8,6,4,2,0,-2]],
  [[30,20,10,0,-10], [0.5,0,-0.5,-1], [2,1,0,-1,-2], [6,4,2,0,-2], [4,3,2,1,0,-1]]
];
const decimalTicks = [
  [false,true,false,false,false], [false,true,false,false,false], [false,true,false,false,false],
  [false,true,false,false,false], [false,true,true,false,false], [false,true,false,false,false]
];
// gait events (% cycle): foot contacts shown as dotted guides, toe-off as dashed line
const eventPct = [[11.5,42.4],[12.6,42.7],[13.6,47.1],[13.2,47.8],[14.3,47.1],[15.2,49.3]];
const toeOffPct = [61, 62, 62, 65.5, 65, 65];

// series per panel: [normal lines..., patient]
const seriesSets = [
  [[rAnkleAng_hi, rAnkleAng_lo, rAnkleAng_pt], [rAnkleMom_hi, rAnkleMom_lo, rAnkleMom_pt], [rAnklePow_hi, rAnklePow_lo, rAnklePow_pt], [rGastroc_hi, rGastroc_lo, rGastroc_pt], [rTibAnt_hi, rTibAnt_lo, rTibAnt_pt]],
  [[rKneeAng_hi, rKneeAng_lo, rKneeAng_pt], [rKneeMom_hi, rKneeMom_lo, rKneeMom_pt], [rKneePow_hi, rKneePow_lo, rKneePow_pt], [rVastLat_hi, rVastLat_lo, rVastLat_pt], [rMedHam_hi, rMedHam_lo, rMedHam_pt]],
  [[rHipAng_hi, rHipAng_lo, rHipAng_pt], [rHipMom_hi, rHipMom_lo, rHipMom_pt], [rHipPow_hi, rHipPow_lo, rHipPow_pt], [rGlutMax_hi, rGlutMax_lo, rGlutMax_pt], [rRectFem_hi, rRectFem_lo, rRectFem_pt]],
  [[lAnkleAng_hi, lAnkleAng_lo, lAnkleAng_pt], [lAnkleMom_hi, lAnkleMom_lo, lAnkleMom_pt], [lAnklePow_hi, lAnklePow_lo, lAnklePow_pt], [lGastroc_hi, lGastroc_lo, lGastroc_pt], [lTibAnt_hi, lTibAnt_lo, lTibAnt_pt]],
  [[lKneeAng_hi, lKneeAng_lo, lKneeAng_pt], [lKneeMom_hi, lKneeMom_lo, lKneeMom_pt], [lKneePow_hi, lKneePow_lo, lKneePow_pt], [lVastLat_hi, lVastLat_lo, lVastLat_pt], [lMedHam_hi, lMedHam_lo, lMedHam_pt]],
  [[lHipAng_hi, lHipAng_lo, lHipAng_pt], [lHipMom_hi, lHipMom_lo, lHipMom_pt], [lHipPow_hi, lHipPow_lo, lHipPow_pt], [lGlutMax_hi, lGlutMax_lo, lGlutMax_pt], [lRectFem_hi, lRectFem_lo, lRectFem_pt]]
];

// ---- Layout (pixels): plot frames [left, right, top, bottom] and title anchors ----
const frames = [
  [[43,182,98,176],[40,177,237,314],[39,182,372,449],[44,185,503,589],[37,185,633,717]],
  [[230,373,100,177],[233,369,238,315],[228,375,373,450],[227,376,509,596],[227,376,644,729]],
  [[429,569,99,177],[432,570,238,314],[427,573,373,450],[432,572,508,593],[432,570,643,736]],
  [[612,748,99,180],[613,748,238,318],[612,752,372,453],[611,757,507,598],[607,757,646,736]],
  [[797,937,99,181],[800,935,237,317],[798,933,372,453],[795,939,513,597],[795,939,650,731]],
  [[982,1120,98,180],[985,1120,235,317],[987,1125,372,453],[988,1126,513,602],[987,1125,646,734]]
];
const titlePos = [
  [[117,100],[121,215],[129,356],[113,494],[118,619]],
  [[297,100],[312,216],[300,354],[298,489],[292,626]],
  [[489,101],[484,218],[489,354],[495,490],[495,623]],
  [[677,104],[686,218],[680,352],[685,494],[687,628]],
  [[859,104],[873,218],[877,354],[853,489],[850,626]],
  [[1035,104],[1045,213],[1051,354],[1052,490],[1037,623]]
];
const jointPos = [[114,72],[298,72],[480,75],[677,76],[861,76],[1037,77]];
const guideSpan = [[52,843],[62,852],[65,855],[66,858],[66,855],[70,858]];

// ---- Drawing ----
const svg = d3.select("#chart");
const locale = d3.formatLocale({decimal: ".", thousands: ",", grouping: [3], currency: ["", ""], minus: "-"});
const fmt1 = locale.format(".1f"), fmt0 = locale.format("d");

const BLUE = "#3f3fa6", RED = "#ec1c24", FRAME = "#8e8e8e";
const titleFont = "'DejaVu Sans', Verdana, sans-serif";
const tickFont = "'Liberation Sans', Arial, sans-serif";

svg.append("text")
  .attr("x", 572).attr("y", 28)
  .attr("text-anchor", "middle")
  .style("font-family", "'Liberation Serif', 'Times New Roman', serif")
  .style("font-weight", "bold").style("font-size", "22px")
  .text(mainTitle);

const plots = svg.append("g");

seriesSets.forEach((colSets, ci) => {
  colSets.forEach((series, ri) => {
    const [l, r, t, b] = frames[ci][ri];
    const ticks = tickSets[ci][ri];
    const x = d3.scaleLinear().domain([0, 100]).range([l, r]);
    const y = d3.scaleLinear().domain(d3.extent(ticks)).range([b, t]);
    const g = plots.append("g");
    const emg = ri >= 3;

    // frame
    g.append("rect").attr("x", l).attr("y", t).attr("width", r - l).attr("height", b - t)
      .attr("fill", "none").attr("stroke", FRAME).attr("stroke-width", 1.3);
    // downward x ticks at cycle start / end
    [0, 100].forEach(p => {
      g.append("line").attr("x1", x(p)).attr("x2", x(p)).attr("y1", b).attr("y2", b + 7)
        .attr("stroke", FRAME).attr("stroke-width", 1.3);
    });
    // small origin marker under the axis
    g.append("path")
      .attr("d", `M${x(0) + 3},${b + 9}h7M${x(0) + 3},${b + 9}v3`)
      .attr("stroke", "#555").attr("stroke-width", 1).attr("fill", "none");

    // y axis
    const axis = d3.axisLeft(y).tickValues(ticks).tickSize(4).tickPadding(3)
      .tickFormat(decimalTicks[ci][ri] ? fmt1 : fmt0);
    const ax = g.append("g").attr("transform", `translate(${l},0)`).call(axis);
    ax.select(".domain").remove();
    ax.selectAll("line").attr("stroke", FRAME);
    ax.selectAll("text").attr("fill", "#444")
      .style("font-family", tickFont).style("font-size", "9.5px");

    // zero reference
    if (y.domain()[0] < 0) {
      g.append("line").attr("x1", l).attr("x2", r).attr("y1", y(0)).attr("y2", y(0))
        .attr("stroke", "#9a9a9a").attr("stroke-width", 1.1)
        .attr("stroke-dasharray", ri === 2 ? null : "9,5");
    }

    const line = d3.line()
      .x(d => x(d[0])).y(d => y(d[1]))
      .curve(emg ? d3.curveLinear : d3.curveMonotoneX);

    const normals = series.slice(0, -1);
    const patient = series[series.length - 1];
    normals.forEach(s => {
      g.append("path").attr("d", line(s)).attr("fill", "none")
        .attr("stroke", BLUE).attr("stroke-width", 1.1).attr("stroke-linejoin", "round");
    });
    g.append("path").attr("d", line(patient)).attr("fill", "none")
      .attr("stroke", RED).attr("stroke-width", 2.8).attr("stroke-linejoin", "round");

    // toe-off
    g.append("line").attr("x1", x(toeOffPct[ci])).attr("x2", x(toeOffPct[ci]))
      .attr("y1", t).attr("y2", b + 7)
      .attr("stroke", "#6f6f6f").attr("stroke-width", 1.5).attr("stroke-dasharray", "11,5");

    // panel title
    const [tx, ty] = titlePos[ci][ri];
    g.append("text").attr("x", tx).attr("y", ty).attr("text-anchor", "middle")
      .attr("dominant-baseline", "middle")
      .style("font-family", titleFont).style("font-size", "14.8px").attr("fill", "#111")
      .text(panelTitles[ci][ri]);
  });

  // joint heading
  svg.append("text").attr("x", jointPos[ci][0]).attr("y", jointPos[ci][1])
    .attr("text-anchor", "middle").attr("dominant-baseline", "middle")
    .style("font-family", titleFont).style("font-size", "14.8px").attr("fill", "#111")
    .text(jointTitles[ci]);
});

// gait event guides through each column
seriesSets.forEach((_, ci) => {
  const [l, r] = frames[ci][0];
  const x = d3.scaleLinear().domain([0, 100]).range([l, r]);
  eventPct[ci].forEach(p => {
    svg.append("line")
      .attr("x1", x(p)).attr("x2", x(p))
      .attr("y1", guideSpan[ci][0]).attr("y2", guideSpan[ci][1])
      .attr("stroke", "#000").attr("stroke-width", 1.3).attr("stroke-dasharray", "5,3");
  });
});
</script>
</body>
</html>
